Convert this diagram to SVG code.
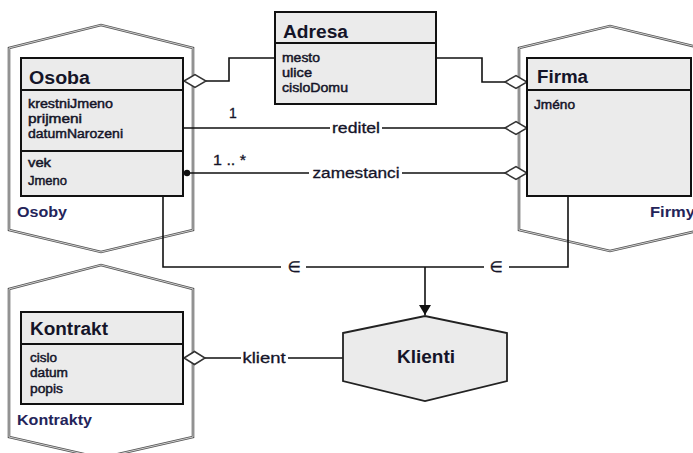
<svg xmlns="http://www.w3.org/2000/svg" width="693" height="453" viewBox="0 0 693 453">
  <defs>
    <style>
      .set-out { fill: none; stroke: #555; stroke-width: 2.6; stroke-linejoin: miter; }
      .set-in { fill: none; stroke: #d0d0d0; stroke-width: 1; }
      .box { fill: #ebebeb; stroke: #111; stroke-width: 2; }
      .div { stroke: #111; stroke-width: 2; }
      .line { fill: none; stroke: #111; stroke-width: 1.6; }
      .dia { fill: #fff; stroke: #333; stroke-width: 1.5; }
      .title { font-family: "Liberation Sans", Arial, sans-serif; font-weight: bold; font-size: 18px; fill: #141428; }
      .attr { font-family: "Liberation Sans", Arial, sans-serif; font-size: 12.5px; fill: #141428; stroke: #141428; stroke-width: 0.45; }
      .setname { font-family: "Liberation Sans", Arial, sans-serif; font-weight: bold; font-size: 15px; fill: #24245a; }
      .lbl { font-family: "Liberation Sans", Arial, sans-serif; font-size: 14px; fill: #141428; stroke: #141428; stroke-width: 0.3; }
      .elem { font-family: "DejaVu Sans", sans-serif; font-size: 15px; fill: #141428; stroke: #141428; stroke-width: 0.4; }
    </style>
    <marker id="arrow" markerWidth="10" markerHeight="12" refX="10" refY="6" orient="auto" markerUnits="userSpaceOnUse">
      <path d="M0,0 L10,6 L0,12 Z" fill="#111"/>
    </marker>
  </defs>
  <rect width="693" height="453" fill="#fff"/>

  <!-- set outlines (hexagons) -->
  <g id="osoby">
    <path class="set-out" d="M9,48 L101,25 L193,48 L193,230 L101,252 L9,230 Z"/>
    <path class="set-in" d="M9,48 L101,25 L193,48 L193,230 L101,252 L9,230 Z"/>
    <text class="setname" x="17" y="217" textLength="50" lengthAdjust="spacingAndGlyphs">Osoby</text>
  </g>
  <g id="firmy">
    <path class="set-out" d="M519,48 L610,26 L701,48 L701,230 L610,251 L519,230 Z"/>
    <path class="set-in" d="M519,48 L610,26 L701,48 L701,230 L610,251 L519,230 Z"/>
    <text class="setname" x="650" y="217" textLength="45" lengthAdjust="spacingAndGlyphs">Firmy</text>
  </g>
  <g id="kontrakty">
    <path class="set-out" d="M9,289 L101,265 L193,289 L193,437 L101,458 L9,437 Z"/>
    <path class="set-in" d="M9,289 L101,265 L193,289 L193,437 L101,458 L9,437 Z"/>
    <text class="setname" x="17" y="425" textLength="75" lengthAdjust="spacingAndGlyphs">Kontrakty</text>
  </g>

  <!-- connectors -->
  <g id="connectors">
    <!-- Osoba - Adresa -->
    <path class="line" d="M205,81 H229 V58 H275"/>
    <!-- Adresa - Firma -->
    <path class="line" d="M436,58 H482 V82 H505"/>
    <!-- reditel -->
    <path class="line" d="M183,128 H330 M382,128 H505"/>
    <text class="lbl" x="229" y="118">1</text>
    <text class="lbl" x="356" y="133" text-anchor="middle" textLength="48" lengthAdjust="spacingAndGlyphs">reditel</text>
    <!-- zamestanci -->
    <path class="line" d="M183,173 H309 M402,173 H505"/>
    <circle cx="187" cy="173" r="3.2" fill="#111"/>
    <text class="lbl" x="213" y="165" textLength="33" lengthAdjust="spacingAndGlyphs">1 .. *</text>
    <text class="lbl" x="356" y="178" text-anchor="middle" textLength="87" lengthAdjust="spacingAndGlyphs">zamestanci</text>
    <!-- membership into Klienti -->
    <path class="line" d="M163,196 V267 H281 M306,267 H484 M509,267 H568 V196"/>
    <text class="elem" x="294" y="272" text-anchor="middle">∈</text>
    <text class="elem" x="496" y="272" text-anchor="middle">∈</text>
    <path class="line" d="M425,267 V315" marker-end="url(#arrow)"/>
    <!-- klient -->
    <path class="line" d="M205,358 H241 M288,358 H343"/>
    <text class="lbl" x="264" y="363" text-anchor="middle" textLength="43" lengthAdjust="spacingAndGlyphs">klient</text>
    <!-- aggregation diamonds -->
    <path class="dia" d="M184,81 L195,74.5 L206,81 L195,87.5 Z"/>
    <path class="dia" d="M505,82 L516,75.5 L527,82 L516,88.5 Z"/>
    <path class="dia" d="M505,128 L516,121.5 L527,128 L516,134.5 Z"/>
    <path class="dia" d="M505,173 L516,166.5 L527,173 L516,179.5 Z"/>
    <path class="dia" d="M184,358 L194.5,351.5 L205,358 L194.5,364.5 Z"/>
  </g>

  <!-- classes -->
  <g id="osoba">
    <rect class="box" x="21" y="58" width="162" height="138"/>
    <line class="div" x1="21" y1="90" x2="183" y2="90"/>
    <line class="div" x1="21" y1="151" x2="183" y2="151"/>
    <text class="title" x="29" y="84" textLength="61" lengthAdjust="spacingAndGlyphs">Osoba</text>
    <text class="attr" x="28" y="108" textLength="85" lengthAdjust="spacingAndGlyphs">krestniJmeno</text>
    <text class="attr" x="28" y="123" textLength="54" lengthAdjust="spacingAndGlyphs">prijmeni</text>
    <text class="attr" x="28" y="138" textLength="95" lengthAdjust="spacingAndGlyphs">datumNarozeni</text>
    <text class="attr" x="28" y="167" textLength="23" lengthAdjust="spacingAndGlyphs">vek</text>
    <text class="attr" x="28" y="185" textLength="39" lengthAdjust="spacingAndGlyphs">Jmeno</text>
  </g>
  <g id="adresa">
    <rect class="box" x="275" y="12" width="161" height="92"/>
    <line class="div" x1="275" y1="43" x2="436" y2="43"/>
    <text class="title" x="283" y="38" textLength="65" lengthAdjust="spacingAndGlyphs">Adresa</text>
    <text class="attr" x="282" y="62" textLength="38" lengthAdjust="spacingAndGlyphs">mesto</text>
    <text class="attr" x="282" y="77" textLength="30" lengthAdjust="spacingAndGlyphs">ulice</text>
    <text class="attr" x="282" y="92" textLength="66" lengthAdjust="spacingAndGlyphs">cisloDomu</text>
  </g>
  <g id="firma">
    <rect class="box" x="527" y="58" width="164" height="138"/>
    <line class="div" x1="527" y1="90" x2="691" y2="90"/>
    <text class="title" x="537" y="83" textLength="51" lengthAdjust="spacingAndGlyphs">Firma</text>
    <text class="attr" x="534" y="109" textLength="41" lengthAdjust="spacingAndGlyphs">Jméno</text>
  </g>
  <g id="kontrakt">
    <rect class="box" x="21" y="312" width="162" height="92"/>
    <line class="div" x1="21" y1="344" x2="183" y2="344"/>
    <text class="title" x="30" y="335" textLength="78" lengthAdjust="spacingAndGlyphs">Kontrakt</text>
    <text class="attr" x="30" y="362" textLength="27" lengthAdjust="spacingAndGlyphs">cislo</text>
    <text class="attr" x="30" y="377" textLength="38" lengthAdjust="spacingAndGlyphs">datum</text>
    <text class="attr" x="30" y="393" textLength="33" lengthAdjust="spacingAndGlyphs">popis</text>
  </g>
  <g id="klienti">
    <path d="M343,333 L425,316 L507,333 L507,381 L425,401 L343,381 Z" fill="#ebebeb" stroke="#222" stroke-width="1.8"/>
    <text class="title" x="426" y="363" text-anchor="middle" textLength="58" lengthAdjust="spacingAndGlyphs">Klienti</text>
  </g>
</svg>
